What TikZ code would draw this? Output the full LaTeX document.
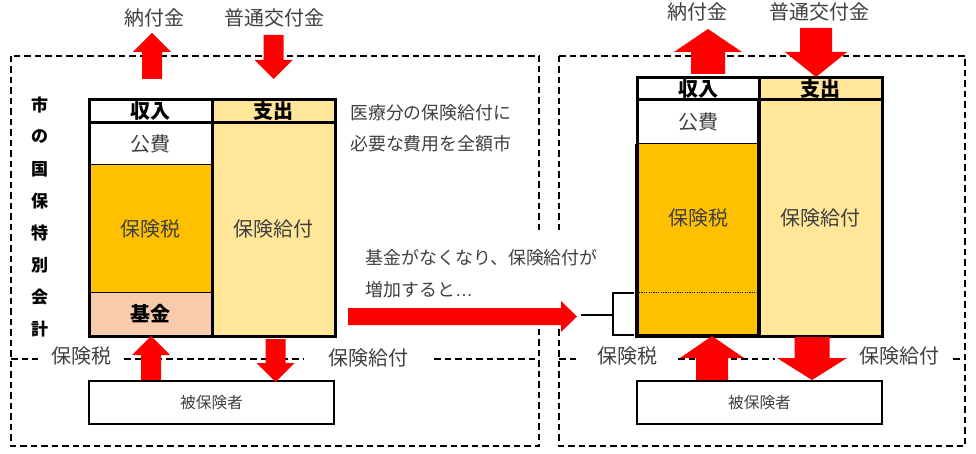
\documentclass[tikz,border=0pt]{standalone}
\usepackage{fontspec}
\setmainfont{Noto Sans CJK JP}
\newfontfamily\dotsfont{Liberation Sans}
\definecolor{txt}{HTML}{404040}
\definecolor{gold}{HTML}{FFC000}
\definecolor{pale}{HTML}{FFE699}
\definecolor{peach}{HTML}{F8CBAD}
\tikzset{
  lab/.style={text=txt,font=\fontsize{20}{20}\selectfont,inner sep=0pt},
  head/.style={text=black,font=\fontsize{20}{20}\selectfont\bfseries,inner sep=0pt},
  side/.style={text=black,font=\fontsize{17}{17}\selectfont\bfseries,inner sep=0pt},
  para/.style={text=txt,font=\fontsize{17.9}{17.9}\selectfont,inner sep=0pt,anchor=west},
  insured/.style={draw,line width=2pt,minimum width=245pt,minimum height=43pt,inner sep=0pt,text=txt,font=\fontsize{15.7}{15.7}\selectfont},
  dash line/.style={line width=2pt,dash pattern=on 6.5pt off 4pt},
  heavy/.style={line width=3pt},
  thin rule/.style={line width=1pt},
  block/.style={fill=red,draw=none}
}
% name, x1, y1, x2, y2, fill, text style, text
\newcommand{\cellbox}[8]{%
  \path[fill=#6] (#2,#3) rectangle (#4,#5);
  \node[#7] (#1) at ({(#2+#4)/2},{(#3+#5)/2}) {#8};
}
% vertical block arrow: x, tail y, base y, tip y, shaft half, head half
\newcommand{\vblock}[6]{%
  \fill[block] ({#1-#5},#2) -- ({#1-#5},#3) -- ({#1-#6},#3) -- (#1,#4) -- ({#1+#6},#3) -- ({#1+#5},#3) -- ({#1+#5},#2) -- cycle;
}
\begin{document}
\begin{tikzpicture}[x=1pt,y=-1pt]
\useasboundingbox (0,0) rectangle (976,454);
% dashed frames
\draw[dash line] (11,56) rectangle (539,446);
\draw[dash line] (559,56) rectangle (965,446);
\draw[dash line] (11,359) -- (38,359);
\draw[dash line] (124,359) -- (303,359);
\draw[dash line] (434,359) -- (539,359);
\draw[dash line] (559,359) -- (576,359);
\draw[dash line] (678,359) -- (775,359);
\draw[dash line] (953,359) -- (965,359);
% white ground of the note between the frames
\fill[white] (350,233) rectangle (610,324);
% left table
\cellbox{lin}{89}{100}{212}{122}{white}{head}{収入}
\cellbox{lout}{212}{100}{335}{122}{pale}{head}{支出}
\cellbox{lpub}{89}{122}{212}{165}{white}{lab}{公費}
\cellbox{ltax}{89}{165}{212}{292}{gold}{lab}{保険税}
\cellbox{lfund}{89}{292}{212}{336}{peach}{head}{基金}
\cellbox{lben}{212}{122}{335}{336}{pale}{lab}{保険給付}
\draw[thin rule] (89,165) -- (212,165);
\draw[thin rule] (89,292) -- (212,292);
\draw[heavy] (89,122.5) -- (335,122.5);
\draw[heavy] (212,100) -- (212,336);
\draw[heavy] (89,100) rectangle (335,336);
% right table
\cellbox{rin}{637}{78}{759}{100}{white}{head}{収入}
\cellbox{rout}{759}{78}{882}{100}{pale}{head}{支出}
\cellbox{rpub}{637}{100}{759}{144}{white}{lab}{公費}
\cellbox{rtax}{637}{144}{759}{292}{gold}{lab}{保険税}
\cellbox{rgap}{637}{292}{759}{336}{gold}{lab}{}
\cellbox{rben}{759}{100}{882}{336}{pale}{lab}{保険給付}
\draw[thin rule] (637,144) -- (759,144);
\draw[line width=1pt,dash pattern=on 1.2pt off 1.2pt] (639,292) -- (757,292);
\draw[heavy] (637,100) -- (882,100);
\draw[heavy] (759,78) -- (759,336);
\draw[heavy] (637,78) rectangle (882,336);
\draw[line width=3.5pt] (637,144) -- (637,336) -- (759,336) -- (759,100);
% insured boxes
\node[insured] (lins) at (211.5,402.5) {被保険者};
\node[insured] (rins) at (759.5,402.5) {被保険者};
% block arrows, left
\vblock{152}{79}{52}{33}{10}{19}
\vblock{273.5}{35}{60}{79}{10}{19}
\vblock{151}{380}{355}{336}{10}{19}
\vblock{275.5}{339}{363}{382}{10}{19}
% block arrows, right
\vblock{708}{74}{52}{29}{17}{34}
\vblock{816}{28}{52}{77}{16}{31}
\vblock{712}{380}{358}{336}{16}{32}
\vblock{812}{337}{358}{380}{17.5}{35}
% long arrow
\fill[block] (348,308) -- (561,308) -- (561,301) -- (577,316.5) -- (561,332) -- (561,325) -- (348,325) -- cycle;
% bracket
\coordinate (bs) at (581,315);
\coordinate (bm) at (613,315);
\draw[line width=2.8pt] (bs) -- (bm);
\draw[line width=2.8pt] (634,293) -- (613,293) -- (613,335) -- (634,335);
% labels above and below
\node[lab] (l1) at (154,18) {納付金};
\node[lab] (l2) at (274,18) {普通交付金};
\node[lab] (r1) at (697,12) {納付金};
\node[lab] (r2) at (819,12) {普通交付金};
\node[lab] (l3) at (81,356) {保険税};
\node[lab] (l4) at (368,358) {保険給付};
\node[lab] (r3) at (627,356) {保険税};
\node[lab] (r4) at (899,356) {保険給付};
% paragraphs
\node[para] (p1) at (350,113) {医療分の保険給付に};
\node[para] (p2) at (350,144) {必要な費用を全額市};
\node[para] (p3) at (365.5,258) {基金がなくなり、保険給付が};
\node[para] (p4) at (365.5,290) {増加すると{\dotsfont …}};
% vertical title
\node[side] (t1) at (39.5,105) {市};
\node[side] (t2) at (39.5,137) {の};
\node[side] (t3) at (39.5,169) {国};
\node[side] (t4) at (39.5,201) {保};
\node[side] (t5) at (39.5,233) {特};
\node[side] (t6) at (39.5,265) {別};
\node[side] (t7) at (39.5,297) {会};
\node[side] (t8) at (39.5,329) {計};
\end{tikzpicture}
\end{document}
